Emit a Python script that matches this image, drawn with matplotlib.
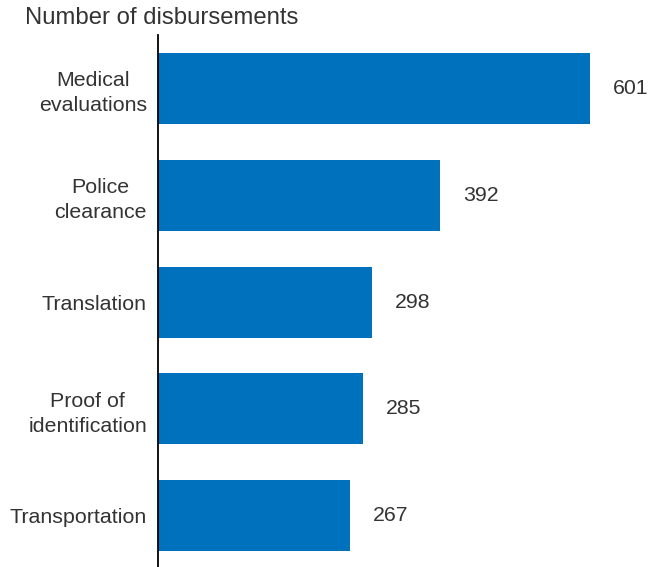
import matplotlib
matplotlib.use("Agg")
import matplotlib.pyplot as plt

categories = ["Medical\nevaluations", "Police\nclearance", "Translation",
              "Proof of\nidentification", "Transportation"]
counts = [601, 392, 298, 285, 267]

plt.rcParams['font.family'] = ['Liberation Sans', 'DejaVu Sans']

fig = plt.figure(figsize=(6.57, 5.67), dpi=100)
ax = fig.add_axes([158 / 657, 0.0, 1 - 158 / 657, 1 - 35 / 567])

pos = list(range(len(categories)))
ax.barh(pos, counts, height=0.664, color='#0071BC')
ax.set_ylim(4.48, -0.5)
ax.set_xlim(0, 694)

for y, v in zip(pos, counts):
    ax.annotate(str(v), (v, y), xytext=(16.5, 0), textcoords='offset points',
                ha='left', va='center', fontsize=15.3, color='#333333')

ax.set_yticks(pos)
ax.set_yticklabels(categories, fontsize=15.4, color='#333333',
                   multialignment='center', linespacing=1.4)
ax.tick_params(axis='y', length=0, pad=8)
ax.set_xticks([])
for s in ['top', 'right', 'bottom']:
    ax.spines[s].set_visible(False)
ax.spines['left'].set_linewidth(1.3)
ax.spines['left'].set_color('black')

fig.text(25 / 657, 1 - 18 / 567, "Number of disbursements", fontsize=17.2,
         color='#333333', ha='left', va='center')

fig.savefig("out.png", dpi=100)
